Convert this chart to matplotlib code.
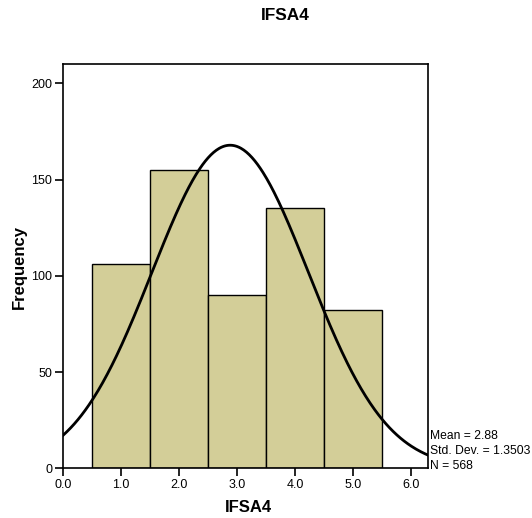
import numpy as np
import matplotlib.pyplot as plt

plt.rcParams['font.family'] = ['Liberation Sans', 'DejaVu Sans']

# IFSA4 frequencies per score bin
bin_centers = [1, 2, 3, 4, 5]
frequencies = [106, 155, 90, 135, 82]
x_ticks = [0, 1, 2, 3, 4, 5, 6]
y_ticks = [0, 50, 100, 150, 200]
mean = 2.88
std_dev = 1.3503
n_total = 568

W, H = 532, 518
fig = plt.figure(figsize=(W / 100, H / 100), dpi=100)
left, right, top, bottom = 63.3, 428.3, 64.0, 468.3
ax = fig.add_axes([left / W, 1 - bottom / H, (right - left) / W, (bottom - top) / H])

ax.bar(bin_centers, frequencies, width=1.0, color='#d3ce98',
       edgecolor='black', linewidth=1.0, zorder=2)

# normal curve scaled to counts (bin width 1)
xs = np.linspace(0, 6.31, 400)
ys = n_total * np.exp(-0.5 * ((xs - mean) / std_dev) ** 2) / (std_dev * np.sqrt(2 * np.pi))
ax.plot(xs, ys, color='black', linewidth=2.0, zorder=3, clip_on=True)

ax.set_xlim(0, 6.30)
ax.set_ylim(0, 210)
ax.set_xticks(x_ticks)
ax.set_xticklabels([f'{v:.1f}' for v in x_ticks])
ax.set_yticks(y_ticks)
ax.tick_params(direction='out', length=6, width=1.2, labelsize=9, pad=2)
for s in ax.spines.values():
    s.set_linewidth(1.2)

fig.text(285 / W, 1 - 16 / H, 'IFSA4', ha='center', va='center',
         fontsize=12.4, fontweight='bold')
fig.text(248 / W, 1 - 508 / H, 'IFSA4', ha='center', va='center',
         fontsize=12, fontweight='bold')
fig.text(19 / W, 1 - 267 / H, 'Frequency', ha='center', va='center',
         fontsize=12, fontweight='bold', rotation=90)

stat_lines = [f'Mean = {mean:.2f}', f'Std. Dev. = {std_dev:.4f}', f'N = {n_total}']
for i, line in enumerate(stat_lines):
    fig.text(430 / W, 1 - (436 + 14.8 * i) / H, line, ha='left', va='center',
             fontsize=8.75)

fig.savefig('out.png', dpi=100)
